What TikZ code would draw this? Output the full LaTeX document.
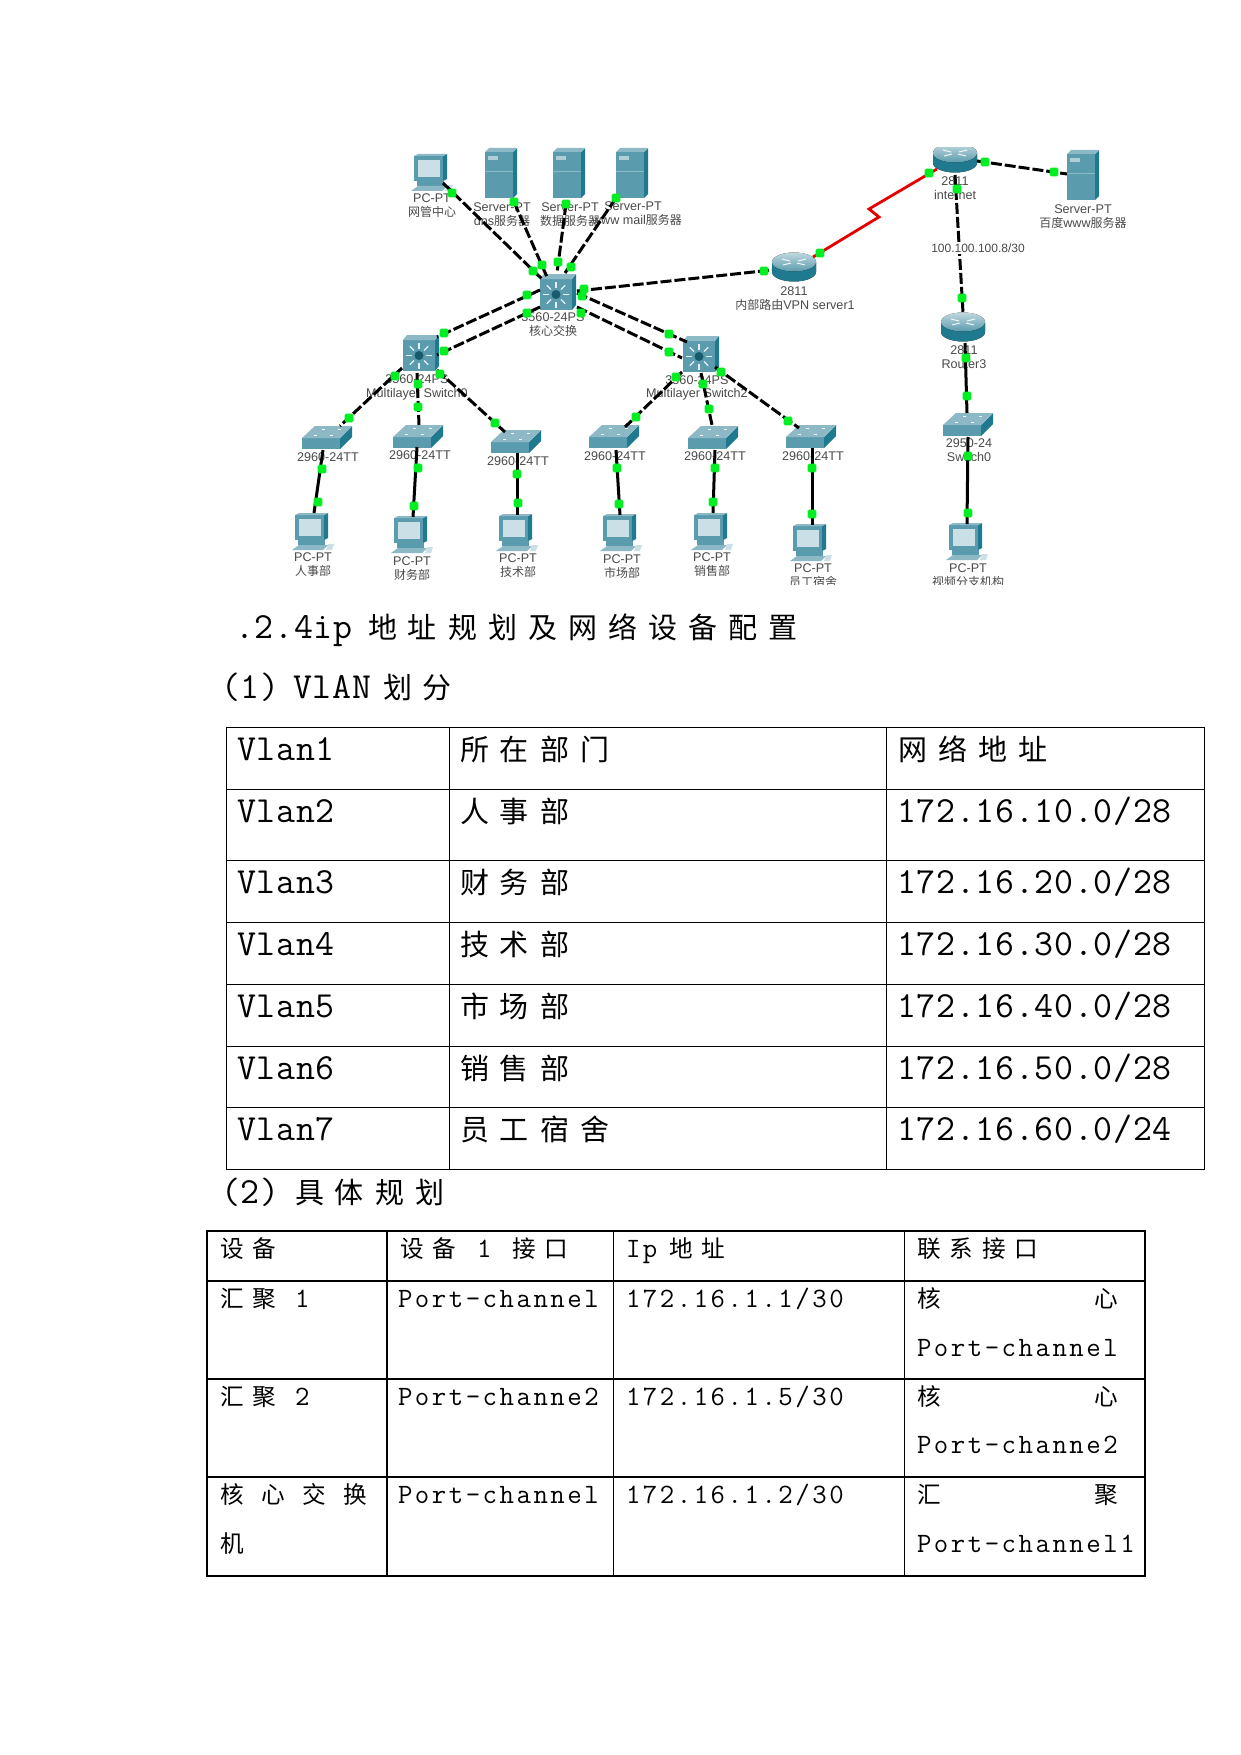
\documentclass[tikz,border=0pt]{standalone}
\usepackage{fontspec}
\setmainfont{Liberation Sans}
\newfontfamily\zhspaced[LetterSpace=38]{Noto Sans CJK SC}
\newfontfamily\zhplain{Noto Sans CJK SC}
\newfontfamily\monospaceA[LetterSpace=2]{Latin Modern Mono}
\newfontfamily\monospaceB[LetterSpace=9]{Latin Modern Mono}
\newfontfamily\sanslab{Liberation Sans}
\newcommand\La[1]{{\fontsize{18.4}{20}\monospaceA #1}}
\newcommand\Za[1]{{\fontsize{14.5}{16}\zhspaced #1}}
\newcommand\Lb[1]{{\fontsize{14}{16}\monospaceB #1}}
\newcommand\Zb[1]{{\fontsize{11.8}{14}\zhspaced #1}}
\newcommand\Sl[1]{{\fontsize{6.3}{7}\sanslab #1}}
\newcommand\Zl[1]{{\fontsize{6}{7}\zhplain #1}}
\definecolor{tealfront}{HTML}{5B9BAE}
\definecolor{tealside}{HTML}{1F7A90}
\definecolor{tealtop}{HTML}{8DB9C6}
\definecolor{screenblue}{HTML}{CBDFE7}
\definecolor{portgreen}{HTML}{00EE22}
\definecolor{labgray}{HTML}{4A4A4A}
\tikzset{
  txt/.style={anchor=base west,inner sep=0pt,outer sep=0pt},
  lab/.style={inner sep=0pt,outer sep=0pt,text=labgray,anchor=center},
  dashlink/.style={draw=black,line width=1.5pt,dash pattern=on 5.5pt off 1.5pt},
  solidlink/.style={draw=black,line width=1.5pt},
  redlink/.style={draw=red!90!black,line width=1.4pt},
  portdot/.style={fill=portgreen,draw=none,rounded corners=0.8pt,minimum size=4.4pt,inner sep=0pt},
  tline/.style={draw=black,line width=0.5pt},
  serverico/.pic={
    \fill[tealfront] (-16,-21) rectangle (12,25);
    \fill[tealside] (12,-21) -- (16,-25) -- (16,21) -- (12,25) -- cycle;
    \fill[tealtop] (-16,-21) -- (-12,-25) -- (16,-25) -- (12,-21) -- cycle;
    \fill[tealtop!70!white] (-13,-17) rectangle (-3,-13);
    \draw[tealtop,line width=0.2pt] (-16,-2) -- (12,-2);
  },
  pcico/.pic={
    \fill[tealside] (12,-17) -- (16,-19) -- (16,6) -- (12,8) -- cycle;
    \fill[tealfront] (-17,-17) rectangle (12,8);
    \fill[tealtop] (-17,-17) -- (-13,-19) -- (16,-19) -- (12,-17) -- cycle;
    \fill[screenblue] (-13,-13) rectangle (9,4);
    \fill[tealfront] (-14,8) rectangle (13,13);
    \fill[tealtop] (-13,13) -- (16,13) -- (11,18) -- (-20,18) -- cycle;
    \fill[screenblue] (16,12) -- (22,12) -- (20,18) -- (14,18) -- cycle;
  },
  routerico/.pic={
    \fill[left color=tealside,middle color=tealtop,right color=tealside] (-22,-5) -- (-22,5) arc[start angle=180,end angle=0,x radius=22,y radius=9.5] -- (22,-5) -- cycle;
    \fill[top color=tealtop!55!white,bottom color=tealfront] (0,-5) ellipse[x radius=22,y radius=9.5];
    \draw[white!85!tealtop,line width=0.5pt] (-12,-8) -- (-4,-6) (12,-8) -- (4,-6) (-11,-2) -- (-3,-4) (11,-2) -- (3,-4);
  },
  coreico/.pic={
    \fill[tealside] (14,-13) -- (18,-18) -- (18,13) -- (14,18) -- cycle;
    \fill[tealfront] (-18,-13) rectangle (14,18);
    \fill[tealtop] (-18,-13) -- (-14,-18) -- (18,-18) -- (14,-13) -- cycle;
    \foreach \a in {0,45,...,315}{\draw[white!85!tealfront,line width=0.6pt] (\a:7)++(-2,2.5) -- ++(\a:6);}
    \fill[tealside!75!black] (-2,2.5) circle (4.5);
  },
  accessico/.pic={
    \fill[tealfront] (-25,0) rectangle (13,11);
    \fill[tealside] (13,0) -- (25,-12) -- (25,-1) -- (13,11) -- cycle;
    \fill[tealtop] (-25,0) -- (-12,-12) -- (25,-12) -- (13,0) -- cycle;
    \draw[white,line width=0.4pt] (-13,-3) -- (-10,-3) (3,-3) -- (6,-3) (-5,-9) -- (-2,-9) (11,-9) -- (14,-9);
  }
}
\begin{document}
\begin{tikzpicture}[x=0.5pt,y=-0.5pt]
\useasboundingbox (0,0) rectangle (1241,1755);
\fill[white] (0,0) rectangle (1241,1755);

\begin{scope}
\clip (285,148) rectangle (1145,584);
% device positions
\coordinate (pcnoc) at (431,173);
\coordinate (srvdns) at (501,173);
\coordinate (srvdata) at (569,173);
\coordinate (srvmail) at (632,173);
\coordinate (core) at (558,292);
\coordinate (mlzero) at (421,353);
\coordinate (mltwo) at (701,354);
\coordinate (swa) at (327,438);
\coordinate (swb) at (418,437);
\coordinate (swc) at (516,442);
\coordinate (swd) at (614,437);
\coordinate (swe) at (713,438);
\coordinate (swf) at (811,437);
\coordinate (rtvpn) at (794,267);
\coordinate (rtnet) at (955,158);
\coordinate (srvbaidu) at (1083,175);
\coordinate (rtthree) at (963,327);
\coordinate (swzero) at (968,425);
\coordinate (pca) at (312,532);
\coordinate (pcb) at (411,535);
\coordinate (pcc) at (516,533);
\coordinate (pcd) at (620,533);
\coordinate (pce) at (711,532);
\coordinate (pcf) at (810,543);
\coordinate (pcg) at (966,542);

% device labels
\node[lab] (l1) at (432,198) {\Sl{PC-PT}};
\node[lab] (l2) at (432,212) {\Zl{网管中心}};
\node[lab] (l3) at (502,207) {\Sl{Server-PT}};
\node[lab] (l4) at (502,221) {\Sl{dns}\Zl{服务器}};
\node[lab] (l5) at (570,207) {\Sl{Server-PT}};
\node[lab] (l6) at (570,221) {\Zl{数据服务器}};
\node[lab] (l7) at (633,206) {\Sl{Server-PT}};
\node[lab] (l8) at (637,220) {\Sl{www mail}\Zl{服务器}};
\node[lab] (l9) at (553,317) {\Sl{3560-24PS}};
\node[lab] (l10) at (553,331) {\Zl{核心交换}};
\node[lab] (l11) at (417,379) {\Sl{3560-24PS}};
\node[lab] (l12) at (417,394) {\Sl{Multilayer Switch0}};
\node[lab] (l13) at (697,380) {\Sl{3560-24PS}};
\node[lab] (l14) at (697,394) {\Sl{Multilayer Switch2}};
\node[lab] (l15) at (328,457) {\Sl{2960-24TT}};
\node[lab] (l16) at (420,455) {\Sl{2960-24TT}};
\node[lab] (l17) at (518,461) {\Sl{2960-24TT}};
\node[lab] (l18) at (615,456) {\Sl{2960-24TT}};
\node[lab] (l19) at (715,456) {\Sl{2960-24TT}};
\node[lab] (l20) at (813,456) {\Sl{2960-24TT}};
\node[lab] (l21) at (313,557) {\Sl{PC-PT}};
\node[lab] (l22) at (313,571) {\Zl{人事部}};
\node[lab] (l23) at (412,561) {\Sl{PC-PT}};
\node[lab] (l24) at (412,575) {\Zl{财务部}};
\node[lab] (l25) at (518,558) {\Sl{PC-PT}};
\node[lab] (l26) at (518,572) {\Zl{技术部}};
\node[lab] (l27) at (622,559) {\Sl{PC-PT}};
\node[lab] (l28) at (622,573) {\Zl{市场部}};
\node[lab] (l29) at (712,557) {\Sl{PC-PT}};
\node[lab] (l30) at (712,571) {\Zl{销售部}};
\node[lab] (l31) at (813,568) {\Sl{PC-PT}};
\node[lab] (l32) at (813,582) {\Zl{员工宿舍}};
\node[lab] (l33) at (968,568) {\Sl{PC-PT}};
\node[lab] (l34) at (968,582) {\Zl{视频分支机构}};
\node[lab] (l35) at (794,291) {\Sl{2811}};
\node[lab] (l36) at (795,305) {\Zl{内部路由}\Sl{VPN server1}};
\node[lab] (l37) at (955,181) {\Sl{2811}};
\node[lab] (l38) at (955,195) {\Sl{internet}};
\node[lab] (l39) at (1083,209) {\Sl{Server-PT}};
\node[lab] (l40) at (1083,223) {\Zl{百度}\Sl{www}\Zl{服务器}};
\node[lab] (l41) at (964,350) {\Sl{2811}};
\node[lab] (l42) at (964,364) {\Sl{Router3}};
\node[lab] (l43) at (969,443) {\Sl{2950-24}};
\node[lab] (l44) at (969,457) {\Sl{Switch0}};

% icons
\pic at (pcnoc) {pcico};
\pic at (srvdns) {serverico};
\pic at (srvdata) {serverico};
\pic at (srvmail) {serverico};
\pic at (srvbaidu) {serverico};
\pic at (core) {coreico};
\pic at (mlzero) {coreico};
\pic at (mltwo) {coreico};
\foreach \d in {swa,swb,swc,swd,swe,swf,swzero}{\pic at (\d) {accessico};}
\foreach \d in {rtvpn,rtnet,rtthree}{\pic at (\d) {routerico};}
\foreach \d in {pca,pcb,pcc,pcd,pce,pcf,pcg}{\pic at (\d) {pcico};}

% connectors: name / style / start / first port / second port / end
\foreach \n/\s/\xa/\ya/\xb/\yb/\xc/\yc/\xd/\yd in {
  ca/dashlink/443/183/452/193/533/271/543/280,
  cb/dashlink/514/202/514/202/542/265/547/277,
  cc/dashlink/566/204/566/204/558/262/557/273,
  cd/dashlink/616/198/616/198/571/267/565/273,
  ce/dashlink/540/290/527/295/444/333/437/337,
  cf/dashlink/540/307/527/313/444/351/437/355,
  cg/dashlink/577/293/582/296/669/334/687/342,
  ch/dashlink/577/307/581/313/669/352/682/358,
  ci/dashlink/577/291/584/289/764/271/772/270,
  cj/dashlink/977/161/985/162/1054/172/1067/174,
  ck/dashlink/955/175/957/189/962/298/963/313,
  cl/solidlink/965/343/966/358/967/396/967/413,
  cm/solidlink/968/437/968/456/968/513/967/524,
  cn/dashlink/402/368/395/376/349/418/340/426,
  co/dashlink/417/373/418/384/418/407/419/425,
  cp/dashlink/437/370/440/374/495/423/505/432,
  cq/dashlink/682/372/676/377/636/417/625/427,
  cr/dashlink/701/373/703/384/709/409/712/425,
  cs/dashlink/715/367/721/372/788/421/799/428,
  ct/solidlink/323/450/322/469/318/502/314/513,
  cu/solidlink/417/447/418/468/414/506/413/517,
  cv/solidlink/517/453/517/474/518/503/517/515,
  cw/solidlink/616/450/617/468/619/504/620/515,
  cx/solidlink/715/450/715/468/713/502/713/513,
  cy/solidlink/812/448/812/468/812/514/812/525}{
  \coordinate (\n-s) at (\xa,\ya);
  \coordinate (\n-e) at (\xd,\yd);
  \draw[\s] (\n-s) -- (\n-e);
  \node[portdot] (\n-p) at (\xb,\yb) {};
  \node[portdot] (\n-q) at (\xc,\yc) {};
}
% serial link
\coordinate (rd-s) at (813,257);
\coordinate (rd-a) at (879,217);
\coordinate (rd-b) at (869,209);
\coordinate (rd-e) at (937,169);
\draw[redlink] (rd-s) -- (rd-a) -- (rd-b) -- (rd-e);
\node[portdot] (rd-p) at (820,253) {};
\node[portdot] (rd-q) at (929,173) {};
% subnet label
\node[lab,fill=white,inner ysep=1pt] (subnet) at (978,248) {\fontsize{6}{7}\sanslab 100.100.100.8/30};
\end{scope}

% headings
\node[txt] (h1a) at (235,638) {\La{.2.4ip}};
\node[txt] (h1b) at (368,638) {\Za{地址规划及网络设备配置}};
\node[txt] (h2a) at (221,698) {\La{(1)}};
\node[txt] (h2b) at (293,698) {\La{VlAN}};
\node[txt] (h2c) at (383,698) {\Za{划分}};
\node[txt] (h3a) at (221,1203) {\La{(2)}};
\node[txt] (h3b) at (295,1203) {\Za{具体规划}};

% first table
\draw[tline] (226,727) rectangle (1204,1169);
\foreach \r in {789,860,922,984,1046,1107}{\draw[tline] (226,\r) -- (1204,\r);}
\draw[tline] (449,727) -- (449,1169);
\draw[tline] (886,727) -- (886,1169);
\node[txt] (a11) at (237,760) {\La{Vlan1}};
\node[txt] (a12) at (460,760) {\Za{所在部门}};
\node[txt] (a13) at (898,760) {\Za{网络地址}};
\node[txt] (a21) at (237,822) {\La{Vlan2}};
\node[txt] (a22) at (460,822) {\Za{人事部}};
\node[txt] (a23) at (897,822) {\La{172.16.10.0/28}};
\node[txt] (a31) at (237,893) {\La{Vlan3}};
\node[txt] (a32) at (460,893) {\Za{财务部}};
\node[txt] (a33) at (897,893) {\La{172.16.20.0/28}};
\node[txt] (a41) at (237,955) {\La{Vlan4}};
\node[txt] (a42) at (460,955) {\Za{技术部}};
\node[txt] (a43) at (897,955) {\La{172.16.30.0/28}};
\node[txt] (a51) at (237,1017) {\La{Vlan5}};
\node[txt] (a52) at (460,1017) {\Za{市场部}};
\node[txt] (a53) at (897,1017) {\La{172.16.40.0/28}};
\node[txt] (a61) at (237,1079) {\La{Vlan6}};
\node[txt] (a62) at (460,1079) {\Za{销售部}};
\node[txt] (a63) at (897,1079) {\La{172.16.50.0/28}};
\node[txt] (a71) at (237,1140) {\La{Vlan7}};
\node[txt] (a72) at (460,1140) {\Za{员工宿舍}};
\node[txt] (a73) at (897,1140) {\La{172.16.60.0/24}};

% second table
\draw[tline,line width=0.6pt] (207,1231) rectangle (1145,1576);
\foreach \r in {1281,1379,1477}{\draw[tline,line width=0.6pt] (207,\r) -- (1145,\r);}
\draw[tline,line width=1.1pt] (387,1231) -- (387,1576);
\draw[tline,line width=0.45pt] (613,1231) -- (613,1576);
\draw[tline,line width=0.45pt] (904,1231) -- (904,1576);
\node[txt] (b11) at (220,1257) {\Zb{设备}};
\node[txt] (b12a) at (400,1257) {\Zb{设备}};
\node[txt] (b12b) at (477,1257) {\Lb{1}};
\node[txt] (b12c) at (512,1257) {\Zb{接口}};
\node[txt] (b13a) at (626,1257) {\Lb{Ip}};
\node[txt] (b13b) at (669,1257) {\Zb{地址}};
\node[txt] (b14) at (917,1257) {\Zb{联系接口}};
\node[txt] (b21a) at (220,1307) {\Zb{汇聚}};
\node[txt] (b21b) at (295,1307) {\Lb{1}};
\node[txt] (b22) at (398,1307) {\Lb{Port-channel}};
\node[txt] (b23) at (626,1307) {\Lb{172.16.1.1/30}};
\node[txt] (b24a) at (917,1307) {\Zb{核}};
\node[txt] (b24b) at (1094,1307) {\Zb{心}};
\node[txt] (b24c) at (917,1356) {\Lb{Port-channel}};
\node[txt] (b31a) at (220,1405) {\Zb{汇聚}};
\node[txt] (b31b) at (295,1405) {\Lb{2}};
\node[txt] (b32) at (398,1405) {\Lb{Port-channe2}};
\node[txt] (b33) at (626,1405) {\Lb{172.16.1.5/30}};
\node[txt] (b34a) at (917,1405) {\Zb{核}};
\node[txt] (b34b) at (1094,1405) {\Zb{心}};
\node[txt] (b34c) at (917,1453) {\Lb{Port-channe2}};
\node[txt] (b41a) at (220,1503) {{\fontsize{11.8}{14}\zhplain 核\hspace{8.8pt}心\hspace{8.8pt}交\hspace{8.8pt}换}};
\node[txt] (b41b) at (220,1552) {\Zb{机}};
\node[txt] (b42) at (398,1503) {\Lb{Port-channel}};
\node[txt] (b43) at (626,1503) {\Lb{172.16.1.2/30}};
\node[txt] (b44a) at (917,1503) {\Zb{汇}};
\node[txt] (b44b) at (1094,1503) {\Zb{聚}};
\node[txt] (b44c) at (917,1552) {\Lb{Port-channel1}};
\end{tikzpicture}
\end{document}
